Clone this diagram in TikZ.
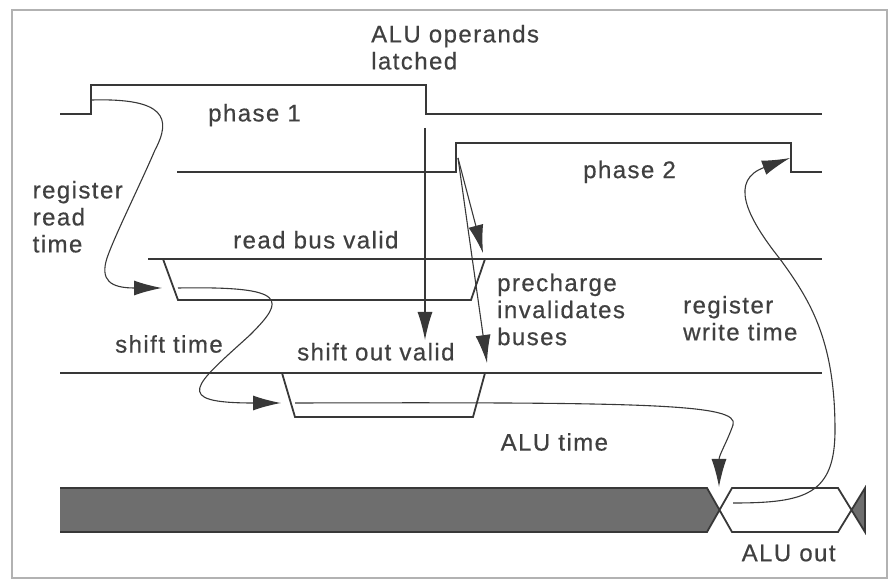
\documentclass[tikz,border=0pt]{standalone}
\usepackage{fontspec}
\setmainfont{Liberation Sans}[LetterSpace=6,FakeBold=0.6]
\usetikzlibrary{arrows.meta}
\definecolor{ink}{gray}{0.22}
\definecolor{txt}{gray}{0.25}
\definecolor{busfill}{gray}{0.43}
\begin{document}
\begin{tikzpicture}[x=1pt,y=-1pt,
  sig/.style={draw=ink,line width=1.8pt,line join=miter},
  conn/.style={draw=ink,line width=1.1pt,-{Latex[length=28pt,width=15pt]}},
  lbl/.style={text=txt,font=\fontsize{24}{27}\selectfont,inner sep=0pt,align=left,anchor=north west}]
\useasboundingbox (0,0) rectangle (895,585);
\draw[gray!60,line width=1.2pt] (12,10) rectangle (887,578);
% phase 1
\draw[sig] (60,114) -- (91,114) -- (91,85) -- (426,85) -- (426,114) -- (822,114);
% phase 2
\draw[sig] (177,172) -- (456,172) -- (456,143) -- (791,143) -- (791,172) -- (822,172);
% read bus
\draw[sig] (148,259) -- (822,259);
\draw[sig] (163,259) -- (178,300) -- (471,300) -- (485,259);
% shift out
\draw[sig] (60,373) -- (822,373);
\draw[sig] (282,373) -- (295,417) -- (473,417) -- (485,373);
% ALU bus
\fill[busfill] (60,488) -- (707,488) -- (719.5,510) -- (707,532) -- (60,532) -- cycle;
\fill[busfill] (851.5,510) -- (865,488) -- (865,532) -- cycle;
\draw[sig] (60,488) -- (707,488) -- (732,532) -- (838,532) -- (865,488) -- (865,532) -- (838,488) -- (732,488) -- (707,532) -- (60,532);
% labels
\node[lbl] (lop) at (371,24.8) {ALU operands\\latched};
\node[lbl] (lph1) at (208,103.8) {phase 1};
\node[lbl] (lph2) at (583,160.5) {phase 2};
\node[lbl] (lrrt) at (32.5,180.8) {register\\read\\time};
\node[lbl] (lrbv) at (233,230.8) {read bus valid};
\node[lbl] (lpre) at (497,273.5) {precharge\\invalidates\\buses};
\node[lbl] (lrwt) at (683,295.8) {register\\write time};
\node[lbl] (lsht) at (115,335) {shift time};
\node[lbl] (lsov) at (297,342.8) {shift out valid};
\node[lbl] (laut) at (500.5,433) {ALU time};
\node[lbl] (laout) at (741.5,544.5) {ALU out};
% connector points
\coordinate (p1r) at (92,100);
\coordinate (rbv) at (162,288);
\coordinate (rbin) at (178,288);
\coordinate (sov) at (281,403);
\coordinate (soin) at (295,403);
\coordinate (alux) at (719,487);
\coordinate (aoin) at (733,503);
\coordinate (p2f) at (790,158);
\coordinate (latch) at (425,128);
\coordinate (latchend) at (425,340);
\coordinate (p2r) at (458,158);
\coordinate (rbend) at (483,253);
\coordinate (soend) at (487,363);
% connectors
\draw[conn] (p1r) .. controls (165,98) and (172,118) .. (155,150) .. controls (140,185) and (115,235) .. (107,258) .. controls (100,280) and (110,288) .. (rbv);
\draw[conn] (rbin) .. controls (290,286) and (285,300) .. (250,335) .. controls (195,385) and (170,403) .. (sov);
\draw[conn] (soin) .. controls (650,402) and (740,404) .. (733,425) .. controls (727,442) and (719,455) .. (alux);
\draw[conn] (aoin) .. controls (805,503) and (835,495) .. (835,430) .. controls (835,340) and (810,300) .. (780,259) .. controls (745,215) and (730,180) .. (p2f);
\draw[conn] (latch) -- (latchend);
\draw[conn] (p2r) -- (rbend);
\draw[conn] (p2r) -- (soend);
\end{tikzpicture}
\end{document}
